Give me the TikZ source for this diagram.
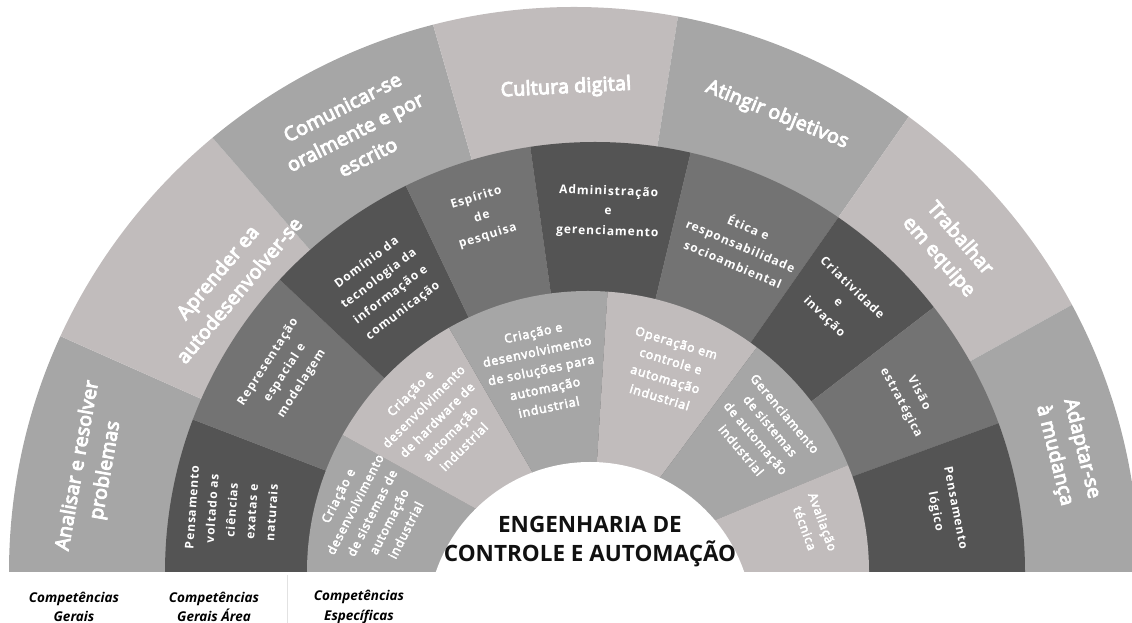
\documentclass[tikz,border=0pt]{standalone}
\usepackage{fontspec}
\setmainfont{Open Sans}
\newfontfamily\outerfont[FakeBold=5,LetterSpace=1.5]{Open Sans}
\newfontfamily\midfont[LetterSpace=8]{Open Sans}
\newfontfamily\innerfont[FakeBold=4,LetterSpace=7]{Open Sans}
\definecolor{segLight}{HTML}{C1BCBC}
\definecolor{segMid}{HTML}{A6A6A6}
\definecolor{segGrey}{HTML}{737373}
\definecolor{segDark}{HTML}{545454}
\definecolor{titleInk}{HTML}{111111}
\definecolor{sepLine}{HTML}{E2E2E2}
\tikzset{
  outertxt/.style={text=white, font=\outerfont\fontsize{19.5}{28}\selectfont, align=center, inner sep=0pt},
  midtxt/.style={text=white, font=\midfont\bfseries\fontsize{12}{20}\selectfont, align=center, inner sep=0pt},
  innertxt/.style={text=white, font=\innerfont\fontsize{12.3}{19}\selectfont, align=center, inner sep=0pt},
  titletxt/.style={text=titleInk, font=\bfseries\fontsize{22.5}{30}\selectfont, inner sep=0pt},
  captxt/.style={text=black, font=\bfseries\itshape\fontsize{13.5}{19.5}\selectfont, align=center, inner sep=0pt},
}
\begin{document}
\begin{tikzpicture}[x=1pt,y=1pt]
\useasboundingbox (0,0) rectangle (1132,623);
\coordinate (C) at (590,51);

% outer ring
\begin{scope}
  \clip (0,51) rectangle (1132,623);
  \clip (574,51) circle (565);
  \foreach \a/\b/\c in {180/156/segMid,156/131/segLight,131/106/segMid,106/81/segLight,81/55/segMid,55/29/segLight,29/0/segMid}{
    \pgfmathsetmacro\m{(\a+\b)/2}
    \fill[\c] (C) -- ([shift={(\a:900)}]C) -- ([shift={(\m:900)}]C) -- ([shift={(\b:900)}]C) -- cycle;
  }
\end{scope}

% middle ring
\begin{scope}
  \clip (0,51) rectangle (1132,623);
  \clip (595,51) circle (430);
  \foreach \a/\b/\c in {180/159/segDark,159/136.7/segGrey,136.7/115.5/segDark,115.5/98/segGrey,98/76.5/segDark,76.5/55/segGrey,55/37.6/segDark,37.6/20/segGrey,20/0/segDark}{
    \pgfmathsetmacro\m{(\a+\b)/2}
    \fill[\c] (C) -- ([shift={(\a:900)}]C) -- ([shift={(\m:900)}]C) -- ([shift={(\b:900)}]C) -- cycle;
  }
\end{scope}

% inner ring
\begin{scope}
  \clip (0,51) rectangle (1132,623);
  \clip (588,51) circle (281);
  \foreach \a/\b/\c in {180/151/segMid,151/120/segLight,120/86.4/segMid,86.4/53.4/segLight,53.4/22.5/segMid,22.5/0/segLight}{
    \pgfmathsetmacro\m{(\a+\b)/2}
    \fill[\c] (C) -- ([shift={(\a:900)}]C) -- ([shift={(\m:900)}]C) -- ([shift={(\b:900)}]C) -- cycle;
  }
\end{scope}

% hub
\begin{scope}
  \clip (0,0) rectangle (1132,623);
  \fill[white] (590,-2) circle (163);
\end{scope}

% separator
\draw[sepLine, line width=0.8pt] (287,48) -- (287,0);

% outer labels
\node[outertxt, rotate=80] (o1) at (92,155) {Analisar e resolver\\problemas};
\node[outertxt, rotate=50] (o2) at (228,342) {Aprender ea\\autodesenvolver-se};
\node[outertxt, rotate=27] (o3) at (355,491) {Comunicar-se\\oralmente e por\\escrito};
\node[outertxt, rotate=3] (o4) at (566,535) {Cultura digital};
\node[outertxt, rotate=-22] (o5) at (777,508) {Atingir objetivos};
\node[outertxt, rotate=-49] (o6) at (949,375) {Trabalhar\\em equipe};
\node[outertxt, rotate=-76] (o7) at (1068,171) {Adaptar-se\\à mudança};

% middle labels
\node[midtxt, rotate=86] (m1) at (232,113) {Pensamento\\voltado as\\ciências\\exatas e\\naturais};
\node[midtxt, rotate=57] (m2) at (285,250) {Representação\\espacial e\\modelagem};
\node[midtxt, rotate=37] (m3) at (385,336) {Domínio da\\tecnologia da\\informação e\\comunicação};
\node[midtxt, rotate=17] (m4) at (482,406) {Espírito\\de\\pesquisa};
\node[midtxt, rotate=-2] (m5) at (608,411) {Administração\\e\\gerenciamento};
\node[midtxt, rotate=-23] (m6) at (741,378) {Ética e\\responsabilidade\\socioambiental};
\node[midtxt, rotate=-44] (m7) at (838,320) {Criatividade\\e\\invação};
\node[midtxt, rotate=-62] (m8) at (910,225) {Visão\\estratégica};
\node[midtxt, rotate=-79] (m9) at (945,113) {Pensamento\\lógico};

% inner labels
\node[innertxt, rotate=63] (i1) at (372,110) {Criação e\\desenvolvimento\\de sistemas de\\automação\\industrial};
\node[innertxt, rotate=45] (i2) at (437,203) {Criação e\\desenvolvimento\\de hardware de\\automação\\industrial};
\node[innertxt, rotate=12] (i3) at (541,253) {Criação e\\desenvolvimento\\de soluções para\\automação\\industrial};
\node[innertxt, rotate=-17] (i4) at (668,253) {Operação em\\controle e\\automação\\industrial};
\node[innertxt, rotate=-50] (i5) at (763,191) {Gerenciamento\\de sistemas\\de automação\\industrial};
\node[innertxt, rotate=-70] (i6) at (814,98) {Avaliação\\técnica};

% title
\node[titletxt] (t1) at (590,98.5) {ENGENHARIA DE};
\node[titletxt] (t2) at (590,69) {CONTROLE E AUTOMAÇÃO};

% captions
\node[captxt] (c1) at (74,16) {Competências\\Gerais};
\node[captxt] (c2) at (214,16) {Competências\\Gerais Área};
\node[captxt] (c3) at (359,16) {Competências\\Específicas};
\end{tikzpicture}
\end{document}
